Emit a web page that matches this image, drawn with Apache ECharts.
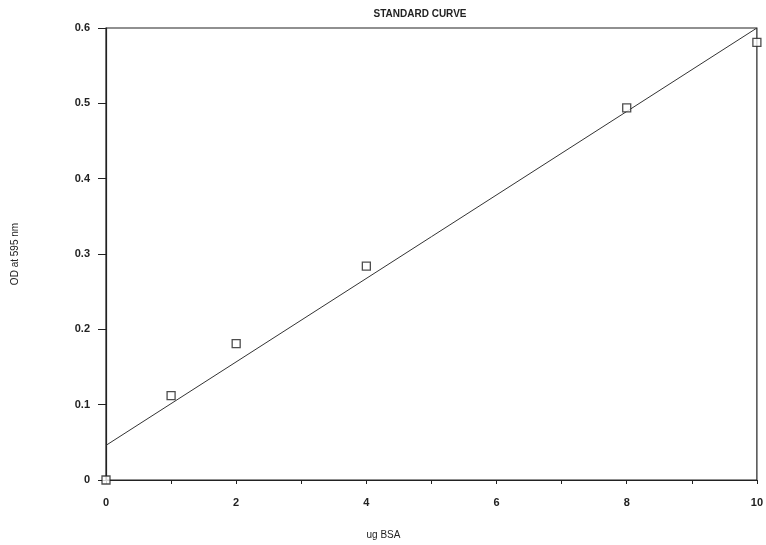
<!DOCTYPE html>
<html>
<head>
<meta charset="utf-8">
<script src="https://cdn.jsdelivr.net/npm/echarts@6/dist/echarts.min.js"></script>
<style>html,body{margin:0;padding:0;background:#fff}#c{width:766px;height:545px}</style>
</head>
<body>
<div id="c"></div>
<script>
var ugBSA = [0, 1, 2, 4, 8, 10];
var odValues = [0, 0.112, 0.181, 0.284, 0.494, 0.581];
var fitX = [0, 10];
var fitY = [0.046, 0.6];
var titleText = 'STANDARD CURVE';
var xName = 'ug BSA';
var yName = 'OD at 595 nm';

var chart = echarts.init(document.getElementById('c'));
var ink = '#222';
var font = 'Liberation Sans';
chart.setOption({
  animation: false,
  backgroundColor: '#fff',
  title: {
    text: titleText, left: 415, top: 4, textAlign: 'center',
    textStyle: { fontFamily: font, fontSize: 10, fontWeight: 'bold', color: ink }
  },
  grid: { left: 106, right: 9, top: 28, bottom: 63, show: true, borderColor: ink, borderWidth: 1.2 },
  xAxis: {
    type: 'value', min: 0, max: 10, interval: 1,
    name: xName, nameLocation: 'middle', nameGap: 50,
    nameTextStyle: { fontFamily: font, fontSize: 10, color: ink, padding: [0, 96, 0, 0] },
    axisLine: { onZero: false, lineStyle: { color: ink, width: 1.2 } },
    axisTick: { inside: false, length: 4, lineStyle: { color: ink } },
    axisLabel: { fontFamily: font, fontSize: 11, fontWeight: 'bold', color: ink, margin: 17,
      formatter: function (v) { return v % 2 === 0 ? String(v) : ''; } },
    splitLine: { show: false }
  },
  yAxis: {
    type: 'value', min: 0, max: 0.6, interval: 0.1,
    name: yName, nameLocation: 'middle', nameGap: 86, nameRotate: 90,
    nameTextStyle: { fontFamily: font, fontSize: 10, color: ink },
    axisLine: { lineStyle: { color: ink, width: 1.2 } },
    axisTick: { inside: false, length: 8, lineStyle: { color: ink } },
    axisLabel: { fontFamily: font, fontSize: 11, fontWeight: 'bold', color: ink, margin: 16,
      formatter: function (v) { return v === 0 ? '0' : v.toFixed(1); } },
    splitLine: { show: false }
  },
  series: [
    {
      type: 'line', data: fitX.map(function (x, i) { return [x, fitY[i]]; }),
      symbol: 'none', lineStyle: { color: '#333', width: 1 }, z: 2
    },
    {
      type: 'scatter', data: ugBSA.map(function (x, i) { return [x, odValues[i]]; }),
      symbol: 'rect', symbolSize: 8,
      itemStyle: { color: '#fff', borderColor: ink, borderWidth: 1.3 }, z: 3
    }
  ]
});
</script>
</body>
</html>
